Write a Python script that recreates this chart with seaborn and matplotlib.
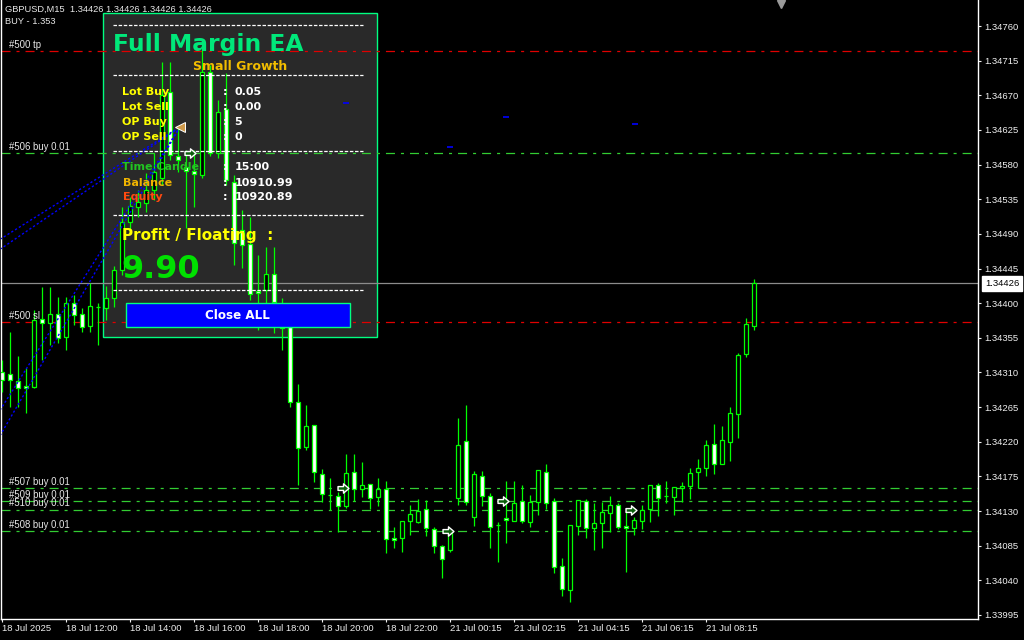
import matplotlib
matplotlib.use("Agg")
import matplotlib.pyplot as plt
import matplotlib.transforms as mtransforms
from matplotlib.patches import Rectangle
from matplotlib.path import Path
import pandas as pd
import seaborn as sns

# ---- data (GBPUSD M15) ----
header_line = "GBPUSD,M15  1.34426 1.34426 1.34426 1.34426"
signal_line = "BUY - 1.353"

opens = [1.34311, 1.34308, 1.34299, 1.34293, 1.34291, 1.34380, 1.34374, 1.34386, 1.34356, 1.34400,
         1.34386, 1.34370, 1.34395, 1.34394, 1.34407, 1.34443, 1.34506, 1.34525, 1.34530, 1.34547,
         1.34563, 1.34674, 1.34591, 1.34577, 1.34572, 1.34567, 1.34700, 1.34595, 1.34652, 1.34557,
         1.34495, 1.34477, 1.34416, 1.34417, 1.34438, 1.34369, 1.34369, 1.34272, 1.34213, 1.34242,
         1.34178, 1.34151, 1.34150, 1.34137, 1.34181, 1.34159, 1.34165, 1.34148, 1.34159, 1.34095,
         1.34095, 1.34117, 1.34116, 1.34133, 1.34107, 1.34085, 1.34080, 1.34147, 1.34221, 1.34122,
         1.34176, 1.34150, 1.34112, 1.34121, 1.34117, 1.34143, 1.34116, 1.34142, 1.34181, 1.34143,
         1.34059, 1.34028, 1.34111, 1.34143, 1.34108, 1.34115, 1.34128, 1.34138, 1.34111, 1.34108,
         1.34117, 1.34133, 1.34164, 1.34150, 1.34148, 1.34160, 1.34163, 1.34181, 1.34186, 1.34217,
         1.34191, 1.34220, 1.34256, 1.34334, 1.34370]
highs = [1.34326, 1.34363, 1.34331, 1.34316, 1.34391, 1.34421, 1.34421, 1.34408, 1.34408, 1.34411,
         1.34394, 1.34426, 1.34400, 1.34422, 1.34448, 1.34525, 1.34538, 1.34547, 1.34569, 1.34595,
         1.34713, 1.34713, 1.34628, 1.34599, 1.34599, 1.34735, 1.34709, 1.34664, 1.34699, 1.34567,
         1.34521, 1.34512, 1.34463, 1.34473, 1.34473, 1.34407, 1.34381, 1.34295, 1.34268, 1.34242,
         1.34185, 1.34173, 1.34155, 1.34204, 1.34204, 1.34194, 1.34165, 1.34173, 1.34169, 1.34109,
         1.34117, 1.34138, 1.34146, 1.34144, 1.34109, 1.34086, 1.34103, 1.34251, 1.34268, 1.34182,
         1.34182, 1.34154, 1.34116, 1.34169, 1.34169, 1.34164, 1.34151, 1.34183, 1.34191, 1.34147,
         1.34069, 1.34112, 1.34144, 1.34146, 1.34141, 1.34142, 1.34150, 1.34141, 1.34129, 1.34122,
         1.34138, 1.34164, 1.34167, 1.34169, 1.34161, 1.34168, 1.34186, 1.34198, 1.34222, 1.34243,
         1.34241, 1.34265, 1.34335, 1.34381, 1.34431]
lows = [1.34285, 1.34265, 1.34265, 1.34257, 1.34290, 1.34326, 1.34346, 1.34348, 1.34339, 1.34372,
        1.34363, 1.34363, 1.34346, 1.34378, 1.34395, 1.34437, 1.34491, 1.34512, 1.34519, 1.34534,
        1.34554, 1.34586, 1.34570, 1.34498, 1.34525, 1.34563, 1.34591, 1.34589, 1.34554, 1.34450,
        1.34446, 1.34404, 1.34365, 1.34395, 1.34361, 1.34339, 1.34265, 1.34164, 1.34209, 1.34168,
        1.34142, 1.34131, 1.34103, 1.34134, 1.34143, 1.34148, 1.34133, 1.34137, 1.34076, 1.34082,
        1.34077, 1.34099, 1.34115, 1.34098, 1.34076, 1.34043, 1.34077, 1.34138, 1.34138, 1.34111,
        1.34137, 1.34082, 1.34064, 1.34089, 1.34117, 1.34115, 1.34109, 1.34125, 1.34133, 1.34050,
        1.34020, 1.34012, 1.34099, 1.34095, 1.34080, 1.34082, 1.34103, 1.34107, 1.34051, 1.34099,
        1.34107, 1.34116, 1.34124, 1.34141, 1.34125, 1.34142, 1.34146, 1.34160, 1.34176, 1.34178,
        1.34191, 1.34195, 1.34225, 1.34330, 1.34365]
closes = [1.34300, 1.34300, 1.34290, 1.34290, 1.34378, 1.34374, 1.34386, 1.34355, 1.34400, 1.34385,
          1.34369, 1.34396, 1.34395, 1.34407, 1.34443, 1.34506, 1.34526, 1.34531, 1.34547, 1.34570,
          1.34670, 1.34593, 1.34586, 1.34572, 1.34568, 1.34700, 1.34595, 1.34648, 1.34560, 1.34478,
          1.34476, 1.34412, 1.34413, 1.34438, 1.34402, 1.34368, 1.34272, 1.34212, 1.34241, 1.34181,
          1.34152, 1.34151, 1.34137, 1.34180, 1.34159, 1.34164, 1.34147, 1.34159, 1.34094, 1.34092,
          1.34117, 1.34126, 1.34130, 1.34108, 1.34085, 1.34068, 1.34103, 1.34216, 1.34142, 1.34178,
          1.34150, 1.34109, 1.34112, 1.34118, 1.34141, 1.34117, 1.34142, 1.34183, 1.34141, 1.34057,
          1.34029, 1.34112, 1.34144, 1.34108, 1.34115, 1.34129, 1.34138, 1.34109, 1.34108, 1.34118,
          1.34131, 1.34164, 1.34147, 1.34150, 1.34161, 1.34163, 1.34180, 1.34186, 1.34216, 1.34191,
          1.34222, 1.34257, 1.34333, 1.34373, 1.34426]
bid = 1.34426

time_labels = ["18 Jul 2025", "18 Jul 12:00", "18 Jul 14:00", "18 Jul 16:00", "18 Jul 18:00",
               "18 Jul 20:00", "18 Jul 22:00", "21 Jul 00:15", "21 Jul 02:15", "21 Jul 04:15",
               "21 Jul 06:15", "21 Jul 08:15"]
time_label_bars = [0, 8, 16, 24, 32, 40, 48, 56, 64, 72, 80, 88]
price_ticks = [1.33995, 1.34040, 1.34085, 1.34130, 1.34175, 1.34220, 1.34265, 1.34310, 1.34355,
               1.34400, 1.34445, 1.34490, 1.34535, 1.34580, 1.34625, 1.34670, 1.34715, 1.34760]

order_labels = ["#500 tp", "#506 buy 0.01", "#500 sl", "#507 buy 0.01",
                "#509 buy 0.01", "#510 buy 0.01", "#508 buy 0.01"]
order_prices = [1.34728, 1.34595, 1.34376, 1.34160, 1.34143, 1.34132, 1.34104]
order_kinds = ["stop", "open", "stop", "open", "open", "open", "open"]

# open-order arrows (bar position, price)
arrow_bars = [23.5, 42.6, 55.75, 62.6, 78.6]
arrow_prices = [1.34595, 1.34160, 1.34104, 1.34143, 1.34132]

# closed trade history (dotted blue), close marker
hist_open_bars = [-0.25, -0.25, -0.25, -0.25]
hist_open_prices = [1.34483, 1.34470, 1.34228, 1.34261]
hist_close_bars = [22.25, 21.6, 22.25, 22.0]
hist_close_prices = [1.34629, 1.34624, 1.34629, 1.34625]
close_mark_bar = 22.25
close_mark_price = 1.34629
stub_bars = [43, 63, 56, 79.1]
stub_prices = [1.34660, 1.34642, 1.34603, 1.34633]

info_labels = ["Lot Buy", "Lot Sell", "OP Buy", "OP Sell"]
info_values = ["0.05", "0.00", "5", "0"]
acct_labels = ["Time Candle", "Balance", "Equity"]
acct_values = ["15:00", "10910.99", "10920.89"]
acct_colors = ["#22c422", "#f0b400", "#ff4a10"]
profit_text = "9.90"

# ---- style ----
sns.set_theme(style="dark", rc={"axes.facecolor": "black", "figure.facecolor": "black",
                                "axes.edgecolor": "white", "axes.grid": False})
plt.rcParams["font.family"] = ["Liberation Sans", "DejaVu Sans"]
plt.rcParams["lines.scale_dashes"] = False

GREEN = "#00ff00"
DASHDOT = (0, (6.5, 4.3, 2.2, 4.3))

fig = plt.figure(figsize=(10.24, 6.4), dpi=100)
ax = fig.add_axes([1 / 1024, 21 / 640, 977 / 1024, 619 / 640])
# screen-pixel transform (origin top-left) for the EA panel overlay
pix = mtransforms.Affine2D().scale(0.01, -0.01).translate(0, 6.4) + fig.dpi_scale_trans

bars = list(range(len(opens)))

# panel background sits behind the candles
ax.add_patch(Rectangle((102.5, 12.5), 274, 324, transform=pix, facecolor="#292929",
                       edgecolor="#00ff80", lw=1, zorder=1))

# order lines and bid line
for label, price, kind in zip(order_labels, order_prices, order_kinds):
    col = "#e00000" if kind == "stop" else "#32cd32"
    ax.axhline(price, color=col, lw=0.9, ls=DASHDOT, zorder=2)
    ax.annotate(label, xy=(0, price), xycoords=("axes fraction", "data"),
                xytext=(5.5, 4.4), textcoords="offset points", ha="left", va="center",
                color="#e8e8e8", fontsize=6.9, zorder=10)
ax.axhline(bid, color="#8c8c8c", lw=0.9, zorder=2)

# candles
bottoms = [min(o, c) for o, c in zip(opens, closes)]
heights = [abs(c - o) for o, c in zip(opens, closes)]
faces = ["black" if c > o else "white" for o, c in zip(opens, closes)]
ax.vlines(bars, lows, highs, color=GREEN, lw=0.9, zorder=3)
ax.bar(bars, heights, bottom=bottoms, width=0.62, color=faces, edgecolor=GREEN,
       linewidth=0.9, zorder=4)

# trade history lines
hist = pd.DataFrame({
    "trade": list(range(len(hist_open_bars))) * 2,
    "bar": hist_open_bars + hist_close_bars,
    "price": hist_open_prices + hist_close_prices,
})
sns.lineplot(data=hist, x="bar", y="price", units="trade", estimator=None, color="#0000ff",
             lw=1, ls=(0, (1.6, 1.6)), sort=False, legend=False, ax=ax, zorder=5)
ax.plot(stub_bars, stub_prices, ls="none", marker="_", ms=5, mew=1.2, color="#0000ff", zorder=5)

# panel content
for y in [24.5, 75, 150.5, 215, 290]:
    ax.plot([113, 363], [y, y], transform=pix, color="white", lw=0.9, ls=(0, (2.5, 1.2)), zorder=8)

bold = dict(family=["DejaVu Sans"], fontweight="bold", transform=pix, zorder=9)
ax.text(113, 50.5, "Full Margin EA", color="#00e87a", fontsize=16.8, va="baseline", ha="left", **bold)
ax.text(240, 70.5, "Small Growth", color="#f2bd00", fontsize=9, va="baseline", ha="center", **bold)
for k, (lab, val) in enumerate(zip(info_labels, info_values)):
    yb = 95 + 15 * k
    ax.text(122.5, yb, lab, color="#ffff00", fontsize=8, va="baseline", ha="left", **bold)
    ax.text(222.5, yb, ":", color="white", fontsize=8, va="baseline", ha="left", **bold)
    ax.text(234.5, yb, val, color="white", fontsize=8, va="baseline", ha="left", **bold)
for k, (lab, val, col) in enumerate(zip(acct_labels, acct_values, acct_colors)):
    yb = 170.5 + 15 * k
    ax.text(122.5, yb, lab, color=col, fontsize=8, va="baseline", ha="left", **bold)
    ax.text(222.5, yb, ":", color="white", fontsize=8, va="baseline", ha="left", **bold)
    ax.text(234.5, yb, val, color="white", fontsize=8, va="baseline", ha="left", **bold)
ax.text(122.5, 240, "Profit / Floating  :", color="#ffff00", fontsize=11, va="baseline", ha="left", **bold)
ax.text(121, 278.5, profit_text, color="#00e000", fontsize=23, va="baseline", ha="left", **bold)
ax.add_patch(Rectangle((125.5, 302.5), 224, 24, transform=pix, facecolor="#0000ff",
                       edgecolor="#00ff80", lw=1, zorder=9))
ax.text(237.5, 319, "Close ALL", color="white", fontsize=8.6, va="baseline", ha="center",
        family=["DejaVu Sans"], fontweight="bold", transform=pix, zorder=10)

# trade markers
arrow = Path([(-1, -0.35), (0, -0.35), (0, -0.85), (1, 0), (0, 0.85), (0, 0.35), (-1, 0.35), (-1, -0.35)],
             [Path.MOVETO] + [Path.LINETO] * 6 + [Path.CLOSEPOLY])
sns.scatterplot(x=arrow_bars, y=arrow_prices, marker=arrow, s=62, color="#0b5e0b",
                edgecolor="white", linewidth=1.0, ax=ax, zorder=11, legend=False)
ax.plot([close_mark_bar], [close_mark_price], marker="<", ms=6.5, mfc="#cf9a4a", mec="white",
        mew=0.7, ls="none", zorder=11)

# header texts and chart-shift marker
ax.text(5, 9, header_line, transform=pix, color="#e8e8e8", fontsize=6.7, va="center", ha="left", zorder=12)
ax.text(5, 22, signal_line, transform=pix, color="#e8e8e8", fontsize=6.7, va="center", ha="left", zorder=12)
ax.plot([781], [3.5], marker="v", ms=5.5, color="#9a9a9a", transform=pix, clip_on=False, zorder=12)

# axes
ax.set_xlim(-0.125, 122)
ax.set_ylim(1.339898, 1.347938)
ax.set_xlabel("")
ax.set_ylabel("")
ax.grid(False)
ax.yaxis.tick_right()
ax.set_yticks(price_ticks)
ax.set_yticklabels([f"{p:.5f}" for p in price_ticks])
ax.set_xticks(time_label_bars)
ax.set_xticklabels(time_labels)
for lbl in ax.get_xticklabels():
    lbl.set_horizontalalignment("left")
ax.tick_params(axis="y", direction="out", length=2.2, width=0.8, colors="#f0f0f0",
               labelsize=6.8, pad=2.5, right=True, left=False)
ax.tick_params(axis="x", direction="out", length=2.2, width=0.8, colors="#f0f0f0",
               labelsize=6.8, pad=1.2, bottom=True)
ax.spines["top"].set_visible(False)
for side in ["left", "right", "bottom"]:
    ax.spines[side].set_color("white")
    ax.spines[side].set_linewidth(1)

ax.annotate(f"{bid:.5f}", xy=(1, bid), xycoords=("axes fraction", "data"), xytext=(5, 0),
            textcoords="offset points", ha="left", va="center", fontsize=6.8, color="black",
            bbox=dict(boxstyle="square,pad=0.3", fc="white", ec="white"),
            annotation_clip=False, zorder=12)

fig.savefig("out.png", dpi=100, facecolor="black")
